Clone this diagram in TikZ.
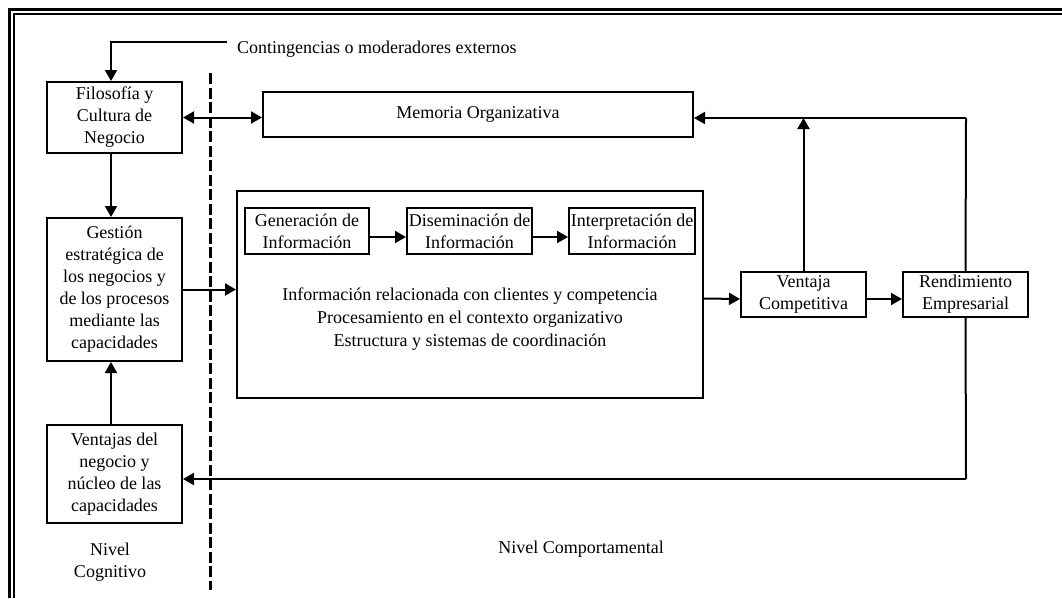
\documentclass[tikz,border=0pt]{standalone}
\usepackage{fontspec}
\setmainfont{Liberation Serif}
\usetikzlibrary{arrows.meta,calc}
\begin{document}
\begin{tikzpicture}[x=1pt,y=-1pt,
  every node/.style={font=\fontsize{18}{22}\selectfont},
  box/.style={draw,line width=2pt,inner sep=0pt,align=center},
  arr/.style={line width=2pt,-{Triangle[length=11pt,width=12pt]}},
  darr/.style={line width=2pt,{Triangle[length=11pt,width=12pt]}-{Triangle[length=11pt,width=12pt]}},
  plain/.style={line width=2pt},
  lbl/.style={inner sep=0pt,align=center}]
\useasboundingbox (0,0) rectangle (1062,598);

% double frame on the left and top
\draw[line width=3pt] (9.7,598) -- (9.7,9.7) -- (1062,9.7);
\draw[line width=2pt] (13.7,598) -- (13.7,13.7) -- (1062,13.7);

% boundary between the two levels
\draw[line width=3pt,dash pattern=on 11pt off 3.5pt] (210,73) -- (210,590);

% cognitive level
\node[box,minimum width=135pt,minimum height=71pt] (fil) at (114.5,117.5)
  {Filosofía y\\Cultura de\\Negocio};
\node[box,minimum width=135pt,minimum height=143pt] (ges) at (114.5,289.5)
  {Gestión\\estratégica de\\los negocios y\\de los procesos\\mediante las\\capacidades};
\node[box,minimum width=135pt,minimum height=98pt] (ven) at (114.5,474)
  {Ventajas del\\negocio y\\núcleo de las\\capacidades};
\node[lbl] (nc) at (110,562) {Nivel\\Cognitivo};

% behavioural level
\node[box,minimum width=430pt,minimum height=45pt] (mem) at (478,114.5)
  {Memoria Organizativa};
\node[box,minimum width=466pt,minimum height=207pt] (cen) at (470,294) {};
\node[box,minimum width=124pt,minimum height=46pt] (gen) at (307,231)
  {Generación de\\Información};
\node[box,minimum width=125pt,minimum height=46pt] (dis) at (469.5,231)
  {Diseminación de\\Información};
\node[box,minimum width=126pt,minimum height=46pt] (int) at (632,231)
  {Interpretación de\\Información};
\node[lbl] (txt) at (470,319)
  {Información relacionada con clientes y competencia\\[1pt]
   Procesamiento en el contexto organizativo\\[1pt]
   Estructura y sistemas de coordinación};
\node[box,minimum width=125pt,minimum height=45pt] (vc) at (803.5,294.5)
  {Ventaja\\Competitiva};
\node[box,minimum width=125pt,minimum height=45pt] (ren) at (965.5,294.5)
  {Rendimiento\\Empresarial};
\node[lbl] (ncomp) at (581,549) {Nivel Comportamental};

% external contingencies
\node[lbl,anchor=base west] (cont) at (237,53) {Contingencias o moderadores externos};
\coordinate (c0) at (227,42);
\coordinate (c1) at (111,42);
\draw[arr] (c0) -- (c1) -- (c1 |- fil.north);

% connectors
\draw[darr] (fil.east) -- (fil.east -| mem.west);
\draw[arr] ([xshift=-3.5pt]fil.south) -- ([xshift=-3.5pt]ges.north);
\draw[arr] ([xshift=-3.5pt]ven.north) -- ([xshift=-3.5pt]ges.south);
\draw[arr] (ges.east) -- (ges.east -| cen.west);
\draw[arr] ([yshift=-6pt]gen.east) -- ([yshift=-6pt]dis.west);
\draw[arr] ([yshift=-6pt]dis.east) -- ([yshift=-6pt]int.west);
\draw[arr] ([yshift=-4.5pt]cen.east) -- ([yshift=-4.5pt]vc.west);
\draw[arr] ([yshift=-4.5pt]vc.east) -- ([yshift=-4.5pt]ren.west);

% feedback loops
\coordinate (top) at (966,118);
\coordinate (bot) at (966,479);
\draw[plain] (ren.north) -- (top);
\draw[arr] (top) -- (top -| mem.east);
\draw[arr] (vc.north) -- (vc.north |- top);
\draw[plain] (ren.south) -- (bot);
\draw[arr] (bot) -- (bot -| ven.east);
\end{tikzpicture}
\end{document}
